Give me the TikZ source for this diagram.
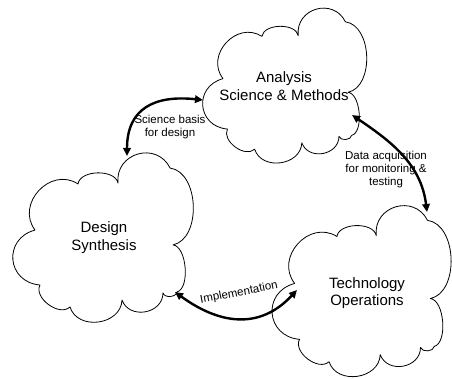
\documentclass[tikz,border=0pt]{standalone}
\usepackage{fontspec}
\setmainfont{Liberation Sans}
\usetikzlibrary{arrows.meta}
\newcommand{\officecloud}[5]{%
  \begin{scope}[shift={(#2,#3)}, x=#4pt, y=-#5pt]
    \draw[cloudline] (0.121,0.456)
      to[bend left=80, looseness=1.33] (0.357,0.183)
      to[bend left=80, looseness=0.92] (0.577,0.178)
      to[bend left=80, looseness=1.43] (0.863,0.089)
      to[bend left=80, looseness=0.98] (0.879,0.544)
      to[bend left=80, looseness=0.75] (0.901,0.822)
      to[bend left=80, looseness=1.0] (0.824,0.828)
      to[bend left=80, looseness=1.3] (0.599,0.870)
      to[bend left=80, looseness=1.23] (0.313,0.911)
      to[bend left=80, looseness=1.0] (0.148,0.781)
      to[bend left=80, looseness=1.55] (0.121,0.456);
    \coordinate (#1) at (0.5,0.5);
  \end{scope}}
\begin{document}
\begin{tikzpicture}[x=1pt,y=-1pt,
  cloudline/.style={draw=black, line width=0.8pt, line join=round},
  bigtext/.style={align=center, inner sep=0pt, font=\fontsize{15}{17.5}\selectfont},
  smalltext/.style={align=center, inner sep=0pt, font=\fontsize{11.5}{13}\selectfont},
  link/.style={line width=2.4pt, >={Triangle[length=8pt,width=7.5pt]}}
]
\useasboundingbox (0,0) rectangle (452,379);
\fill[white] (0,0) rectangle (452,379);

\officecloud{anacloud}{203}{8}{165}{155}
\officecloud{descloud}{13}{153}{182}{169}
\officecloud{teccloud}{273}{205}{179}{172}

\node[bigtext] (ana) at (284,86) {Analysis\\Science \& Methods};
\node[bigtext] (des) at (104,237.5) {Design\\Synthesis};
\node[bigtext] (tec) at (367,293) {Technology\\Operations};

\coordinate (sbA) at (203,100);
\coordinate (sbD) at (127,156);
\coordinate (daA) at (352,115);
\coordinate (daT) at (427,212);
\coordinate (imD) at (175,292);
\coordinate (imT) at (297,290);

\draw[link,<->] (sbA) to[out=174, in=90, looseness=1.3] (sbD);
\draw[link,<->] (daA) to[out=-34, in=97] (daT);
\draw[link,<->] (imD) to[out=-36, in=227, looseness=1.15] (imT);

\node[smalltext] (sb) at (170,127.3) {Science basis\\for design};
\node[smalltext] (da) at (386,170) {Data acquisition\\for monitoring \&\\testing};
\node[smalltext, rotate=11] (im) at (239,293) {Implementation};
\end{tikzpicture}
\end{document}
